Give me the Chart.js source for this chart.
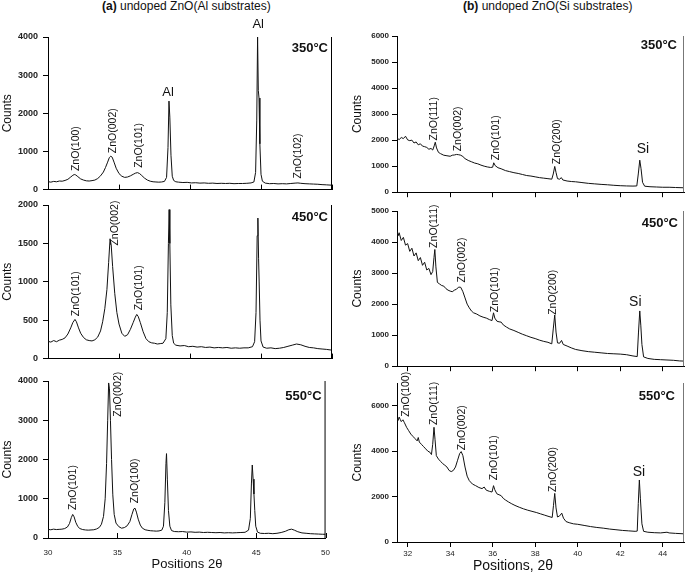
<!DOCTYPE html>
<html>
<head>
<meta charset="utf-8">
<script src="https://cdn.jsdelivr.net/npm/chart.js@4.4.1/dist/chart.umd.min.js"></script>
<style>
body { margin: 0; background: #fff; }
#wrap { position: relative; width: 685px; height: 574px; overflow: hidden; font-family: Arial, "Liberation Sans", sans-serif; }
#wrap canvas { position: absolute; }
.ttl { position: absolute; top: 0; font-size: 12px; line-height: 13px; white-space: nowrap; color: #111; }
</style>
</head>
<body>
<div id="wrap">
  <div class="ttl" style="left:102px"><b>(a)</b> undoped ZnO(Al substrates)</div>
  <div class="ttl" style="left:463px"><b>(b)</b> undoped ZnO(Si substrates)</div>
  <canvas id="c1" width="340" height="186" style="left:0;top:14px"></canvas>
  <canvas id="c2" width="340" height="179" style="left:0;top:190px"></canvas>
  <canvas id="c3" width="340" height="208" style="left:0;top:366px"></canvas>
  <canvas id="c4" width="345" height="186" style="left:340px;top:14px"></canvas>
  <canvas id="c5" width="345" height="179" style="left:340px;top:195px"></canvas>
  <canvas id="c6" width="345" height="208" style="left:340px;top:366px"></canvas>
</div>
<script>
// tick labels
var alTicksX = [30, 35, 40, 45, 50];
var siTicksX = [32, 34, 36, 38, 40, 42, 44];
var alTicksY350 = [0, 1000, 2000, 3000, 4000];
var alTicksY450 = [0, 500, 1000, 1500, 2000];
var alTicksY550 = [0, 1000, 2000, 3000, 4000];
var siTicksY350 = [0, 1000, 2000, 3000, 4000, 5000, 6000];
var siTicksY450 = [0, 1000, 2000, 3000, 4000, 5000];
var siTicksY550 = [0, 2000, 4000, 6000];

// scans [2theta, counts]
var al350 = [[30,210],[30.2,195],[30.4,215],[30.6,205],[30.8,225],[31,220],[31.2,240],[31.4,270],[31.6,330],[31.75,375],[31.85,395],[31.95,385],[32.1,340],[32.3,280],[32.5,250],[32.7,230],[32.9,225],[33.1,235],[33.3,250],[33.5,290],[33.7,360],[33.9,460],[34.05,580],[34.2,720],[34.32,840],[34.42,875],[34.52,850],[34.65,720],[34.8,560],[35,420],[35.2,350],[35.4,320],[35.6,330],[35.8,360],[36,400],[36.15,430],[36.3,445],[36.45,420],[36.6,370],[36.8,300],[37,250],[37.2,220],[37.4,205],[37.6,200],[37.8,195],[38,200],[38.2,215],[38.35,320],[38.45,1100],[38.52,2320],[38.58,1900],[38.66,900],[38.75,350],[38.85,240],[39,205],[39.2,195],[39.5,185],[39.8,190],[40.1,175],[40.4,180],[40.7,170],[41,175],[41.3,165],[41.6,170],[41.9,160],[42.2,165],[42.5,160],[42.8,165],[43.1,155],[43.4,160],[43.7,160],[44,165],[44.3,175],[44.5,200],[44.62,450],[44.7,1800],[44.76,4000],[44.81,2600],[44.86,2400],[44.92,1200],[45,400],[45.1,220],[45.3,170],[45.6,155],[45.9,160],[46.2,150],[46.5,155],[46.8,150],[47.1,160],[47.4,170],[47.6,175],[47.8,165],[48.1,155],[48.4,150],[48.7,145],[49,140],[49.3,130],[49.6,125],[50,115]];
var al450 = [[30,225],[30.2,215],[30.4,235],[30.6,220],[30.8,240],[31,250],[31.2,270],[31.4,320],[31.6,400],[31.75,470],[31.9,510],[32,480],[32.15,400],[32.3,330],[32.5,275],[32.7,245],[32.9,235],[33.1,230],[33.3,245],[33.5,280],[33.7,360],[33.85,480],[34,650],[34.15,900],[34.27,1250],[34.37,1560],[34.45,1480],[34.55,1200],[34.7,850],[34.85,600],[35,450],[35.2,330],[35.4,290],[35.6,310],[35.8,380],[36,470],[36.15,540],[36.25,575],[36.35,550],[36.5,470],[36.7,350],[36.9,260],[37.1,220],[37.3,205],[37.5,200],[37.7,190],[37.9,195],[38.1,200],[38.3,260],[38.4,600],[38.48,1500],[38.53,1940],[38.58,1500],[38.65,700],[38.75,300],[38.85,200],[39,175],[39.3,165],[39.6,170],[39.9,155],[40.2,160],[40.5,150],[40.8,155],[41.1,145],[41.4,150],[41.7,140],[42,145],[42.3,140],[42.6,145],[42.9,135],[43.2,140],[43.5,135],[43.8,140],[44.1,140],[44.4,155],[44.55,220],[44.65,600],[44.73,1600],[44.78,1830],[44.83,1300],[44.87,1010],[44.93,500],[45,230],[45.15,150],[45.4,135],[45.7,140],[46,130],[46.3,135],[46.6,145],[46.9,160],[47.2,175],[47.5,190],[47.8,180],[48.1,160],[48.4,145],[48.7,140],[49,130],[49.3,125],[49.6,120],[50,110]];
var al550 = [[30,220],[30.2,210],[30.4,225],[30.6,215],[30.8,220],[31,225],[31.2,240],[31.4,280],[31.55,370],[31.68,520],[31.78,600],[31.88,540],[32,400],[32.15,290],[32.3,240],[32.5,215],[32.7,205],[32.9,200],[33.1,205],[33.3,210],[33.5,230],[33.7,270],[33.85,350],[34,550],[34.12,1000],[34.22,1900],[34.3,3000],[34.37,3950],[34.43,3800],[34.5,3000],[34.58,2000],[34.67,1100],[34.77,600],[34.9,380],[35.1,290],[35.3,250],[35.5,265],[35.7,310],[35.9,420],[36.05,600],[36.18,740],[36.27,760],[36.37,660],[36.5,480],[36.65,330],[36.8,250],[37,210],[37.2,195],[37.4,185],[37.6,180],[37.8,175],[38,180],[38.2,200],[38.32,300],[38.42,900],[38.5,1900],[38.54,2150],[38.6,1500],[38.68,700],[38.78,300],[38.9,190],[39.1,165],[39.4,160],[39.7,165],[40,150],[40.3,155],[40.6,145],[40.9,150],[41.2,140],[41.5,145],[41.8,140],[42.1,135],[42.4,140],[42.7,130],[43,135],[43.3,130],[43.6,135],[43.9,140],[44.2,145],[44.45,200],[44.58,500],[44.66,1400],[44.72,1860],[44.78,1500],[44.84,1120],[44.9,700],[44.97,300],[45.1,150],[45.3,120],[45.6,115],[45.9,120],[46.2,110],[46.5,120],[46.8,140],[47.1,170],[47.35,210],[47.55,225],[47.75,200],[48,160],[48.3,130],[48.6,120],[48.9,110],[49.2,105],[49.5,100],[49.8,95],[50,95]];
var si350 = [[31.5,2080],[31.6,2020],[31.7,2100],[31.8,2060],[31.9,2150],[32,2010],[32.1,1980],[32.2,2000],[32.3,1890],[32.4,1930],[32.5,1820],[32.6,1860],[32.7,1770],[32.8,1750],[32.9,1720],[33,1650],[33.1,1680],[33.18,1620],[33.25,1780],[33.3,1920],[33.36,1700],[33.45,1530],[33.55,1480],[33.7,1420],[33.85,1400],[34,1380],[34.1,1420],[34.2,1430],[34.3,1450],[34.4,1440],[34.5,1420],[34.6,1370],[34.7,1290],[34.85,1220],[35,1170],[35.15,1120],[35.3,1090],[35.45,1040],[35.6,1000],[35.75,970],[35.9,950],[36,960],[36.05,1130],[36.12,1020],[36.25,940],[36.4,900],[36.6,830],[36.8,790],[37,750],[37.2,720],[37.4,680],[37.6,640],[37.8,620],[38,590],[38.2,560],[38.4,540],[38.6,520],[38.78,500],[38.85,700],[38.92,990],[38.98,760],[39.05,520],[39.15,500],[39.23,560],[39.3,470],[39.5,430],[39.7,410],[39.9,400],[40.2,370],[40.5,340],[40.8,320],[41.1,300],[41.4,285],[41.7,265],[42,250],[42.3,240],[42.6,235],[42.78,240],[42.85,700],[42.92,1230],[42.98,900],[43.05,380],[43.15,230],[43.4,210],[43.7,200],[44,190],[44.3,190],[44.6,180],[45,170]];
var si450 = [[31.5,4350],[31.55,4200],[31.6,4300],[31.7,4050],[31.8,4150],[31.9,3900],[32,3950],[32.1,3700],[32.2,3800],[32.3,3550],[32.4,3650],[32.5,3400],[32.6,3500],[32.7,3250],[32.8,3350],[32.9,3100],[33,3150],[33.1,2950],[33.18,3050],[33.24,3500],[33.28,3760],[33.33,3200],[33.4,2700],[33.5,2650],[33.6,2600],[33.7,2580],[33.8,2500],[33.9,2450],[34,2420],[34.1,2400],[34.2,2450],[34.3,2480],[34.4,2550],[34.5,2540],[34.6,2400],[34.7,2200],[34.8,2000],[34.9,1880],[35,1780],[35.1,1720],[35.25,1680],[35.4,1620],[35.55,1580],[35.7,1550],[35.85,1500],[35.97,1470],[36.04,1720],[36.1,1550],[36.2,1450],[36.3,1430],[36.4,1420],[36.5,1330],[36.65,1260],[36.8,1200],[37,1150],[37.2,1090],[37.4,1030],[37.6,980],[37.8,930],[38,890],[38.2,840],[38.4,800],[38.6,770],[38.78,720],[38.85,1200],[38.92,1650],[38.98,1100],[39.05,750],[39.15,740],[39.24,830],[39.32,700],[39.5,650],[39.7,590],[39.9,540],[40.2,500],[40.5,470],[40.8,450],[41.1,430],[41.4,410],[41.7,400],[42,390],[42.3,370],[42.6,330],[42.8,310],[42.86,1100],[42.92,1780],[42.97,1300],[43.02,700],[43.1,300],[43.3,250],[43.6,220],[43.9,210],[44.2,200],[44.5,190],[44.8,170],[45,165]];
var si550 = [[31.5,5450],[31.55,5350],[31.6,5500],[31.65,5400],[31.7,5300],[31.78,5380],[31.85,5250],[31.95,5050],[32.05,4900],[32.15,4750],[32.25,4650],[32.35,4550],[32.45,4450],[32.5,4600],[32.55,4400],[32.65,4300],[32.75,4200],[32.85,4100],[32.95,4000],[33.05,3950],[33.12,3850],[33.18,4300],[33.24,5050],[33.29,4500],[33.35,3800],[33.45,3650],[33.55,3550],[33.65,3450],[33.75,3380],[33.85,3300],[33.95,3150],[34.05,3100],[34.15,3150],[34.25,3300],[34.35,3600],[34.45,3900],[34.52,3980],[34.6,3800],[34.7,3300],[34.8,2900],[34.9,2700],[35.05,2550],[35.2,2480],[35.35,2400],[35.5,2350],[35.6,2420],[35.7,2280],[35.85,2230],[35.97,2200],[36.04,2480],[36.1,2300],[36.2,2120],[36.3,2080],[36.4,2040],[36.5,1920],[36.6,1850],[36.75,1760],[36.9,1680],[37.05,1610],[37.25,1530],[37.45,1460],[37.65,1400],[37.85,1350],[38.05,1300],[38.25,1240],[38.45,1180],[38.65,1120],[38.8,1080],[38.86,1600],[38.92,2140],[38.98,1500],[39.05,1100],[39.15,1150],[39.25,1270],[39.33,1050],[39.45,900],[39.6,850],[39.8,800],[40,780],[40.3,730],[40.6,680],[40.9,640],[41.2,610],[41.5,570],[41.8,540],[42.1,510],[42.4,490],[42.7,470],[42.8,480],[42.85,1700],[42.9,2730],[42.95,1900],[43.02,800],[43.1,470],[43.3,430],[43.6,410],[43.9,400],[44.2,430],[44.3,400],[44.6,380],[45,360]];

// peak names, anchored at [2theta, counts]
var peaks350a = [['ZnO(100)',31.97,485],['ZnO(002)',34.56,954],['ZnO(101)',36.4,570],['ZnO(102)',47.58,290]];
var peaks450a = [['ZnO(101)',31.97,553],['ZnO(002)',34.7,1472],['ZnO(101)',36.43,629]];
var peaks550a = [['ZnO(101)',31.83,713],['ZnO(002)',35.02,3090],['ZnO(100)',36.29,883]];
var peaks350b = [['ZnO(111)',33.24,1986],['ZnO(002)',34.37,1570],['ZnO(101)',36.17,1227],['ZnO(200)',39.02,1075]];
var peaks450b = [['ZnO(111)',33.24,3812],['ZnO(002)',34.56,2697],['ZnO(101)',36.12,1741],['ZnO(200)',38.84,1656]];
var peaks550b = [['ZnO(100)',31.94,5515],['ZnO(111)',33.24,5147],['ZnO(002)',34.57,4044],['ZnO(101)',36.09,2720],['ZnO(200)',38.84,2205]];
var subs350a = [['Al',38.45,2550],['Al',44.8,4320]];
var subs350b = [['Si',43.07,1671]];
var subs450b = [['Si',42.71,2060]];
var subs550b = [['Si',42.88,3090]];

var FONT = 'Arial, "Liberation Sans", sans-serif';

var deco = {
    id: 'deco',
    afterDatasetsDraw: function (chart, args, o) {
        var ctx = chart.ctx, a = chart.chartArea, x = chart.scales.x, y = chart.scales.y;
        ctx.save();
        ctx.lineWidth = 1;
        ctx.strokeStyle = o.edge;
        ctx.beginPath();
        ctx.moveTo(a.right - 0.5, a.top);
        ctx.lineTo(a.right - 0.5, a.bottom);
        ctx.stroke();
        if (o.tickIn) {
            ctx.strokeStyle = '#000';
            o.xt.forEach(function (t) {
                var px = Math.round(x.getPixelForValue(t)) + 0.5;
                ctx.beginPath();
                ctx.moveTo(px, a.bottom);
                ctx.lineTo(px, a.bottom - 5);
                ctx.stroke();
            });
        }
        ctx.fillStyle = '#111';
        ctx.font = '10.5px ' + FONT;
        ctx.textAlign = 'left';
        ctx.textBaseline = 'middle';
        o.peaks.forEach(function (p) {
            ctx.save();
            ctx.translate(x.getPixelForValue(p[1]), y.getPixelForValue(p[2]));
            ctx.rotate(-Math.PI / 2);
            ctx.fillText(p[0], 0, 0);
            ctx.restore();
        });
        ctx.font = o.subSize + 'px ' + FONT;
        ctx.textAlign = 'center';
        o.subs.forEach(function (p) {
            ctx.fillText(p[0], x.getPixelForValue(p[1]), y.getPixelForValue(p[2]));
        });
        // temperature
        ctx.font = 'bold 13px ' + FONT;
        ctx.textAlign = 'right';
        ctx.fillText(o.temp, a.right - o.tempDx, a.top + o.tempDy);
        // axis titles
        ctx.font = '12px ' + FONT;
        ctx.textAlign = 'center';
        ctx.save();
        ctx.translate(o.countsX, (a.top + a.bottom) / 2);
        ctx.rotate(-Math.PI / 2);
        ctx.fillText('Counts', 0, 0);
        ctx.restore();
        if (o.xTitle) {
            ctx.font = o.xTitleSize + 'px ' + FONT;
            ctx.fillText(o.xTitle, o.xTitleX, o.xTitleY);
        }
        ctx.restore();
    }
};

function plain(v) { return String(v); }

function makePanel(id, p) {
    new Chart(document.getElementById(id), {
        type: 'scatter',
        data: {
            datasets: [{
                data: p.data.map(function (d) { return { x: d[0], y: d[1] }; }),
                showLine: true,
                borderColor: '#111',
                borderWidth: 1,
                pointRadius: 0,
                tension: 0
            }]
        },
        options: {
            responsive: false,
            animation: false,
            events: [],
            layout: { padding: { top: p.padTop, right: p.padRight, left: 0, bottom: 0 } },
            plugins: {
                legend: { display: false },
                tooltip: { enabled: false },
                deco: p.deco
            },
            scales: {
                x: {
                    type: 'linear', min: p.xmin, max: p.xmax,
                    afterBuildTicks: function (s) { s.ticks = p.xt.map(function (v) { return { value: v }; }); },
                    afterFit: function (s) { s.height = p.xh; },
                    ticks: { display: p.xlab, callback: plain, font: { size: 8, family: FONT }, color: '#222', padding: p.xpad, maxRotation: 0, autoSkip: false },
                    grid: { drawOnChartArea: false, drawTicks: !p.deco.tickIn, tickLength: 5, color: '#000' },
                    border: { color: '#000' }
                },
                y: {
                    type: 'linear', min: 0, max: p.ymax,
                    afterBuildTicks: function (s) { s.ticks = p.yt.map(function (v) { return { value: v }; }); },
                    afterFit: function (s) { s.width = p.yw; },
                    ticks: { callback: plain, font: { size: p.yfs, weight: 'bold', family: FONT }, color: '#222', padding: p.ypad, autoSkip: false },
                    grid: { drawOnChartArea: false, tickLength: 5, color: '#000' },
                    border: { color: '#000' }
                }
            }
        },
        plugins: [deco]
    });
}

function leftDeco(peaks, subs, temp, dy, xTitle) {
    return { edge: '#000', tickIn: true, xt: alTicksX, peaks: peaks, subs: subs, subSize: 13,
        temp: temp, tempDx: 4, tempDy: dy, countsX: 8,
        xTitle: xTitle, xTitleSize: 13, xTitleX: 187, xTitleY: 198 };
}
function rightDeco(peaks, subs, temp, dx, dy, xTitle) {
    return { edge: '#777', tickIn: false, xt: siTicksX, peaks: peaks, subs: subs, subSize: 14,
        temp: temp, tempDx: dx, tempDy: dy, countsX: 18,
        xTitle: xTitle, xTitleSize: 14, xTitleX: 173, xTitleY: 200 };
}

makePanel('c1', { data: al350, xmin: 30, xmax: 50, xt: alTicksX, ymax: 4000, yt: alTicksY350,
    padTop: 23, padRight: 8, xh: 6, xlab: false, xpad: 0, yw: 48, yfs: 9, ypad: 5,
    deco: leftDeco(peaks350a, subs350a, '350°C', 11, null) });
makePanel('c2', { data: al450, xmin: 30, xmax: 50, xt: alTicksX, ymax: 2000, yt: alTicksY450,
    padTop: 15, padRight: 8, xh: 6, xlab: false, xpad: 0, yw: 48, yfs: 9, ypad: 5,
    deco: leftDeco(peaks450a, [], '450°C', 12, null) });
makePanel('c3', { data: al550, xmin: 30, xmax: 50, xt: alTicksX, ymax: 4000, yt: alTicksY550,
    padTop: 15, padRight: 8, xh: 36, xlab: true, xpad: 10, yw: 48, yfs: 9, ypad: 5,
    deco: leftDeco(peaks550a, [], '550°C', 15, 'Positions 2θ') });
makePanel('c4', { data: si350, xmin: 31.5, xmax: 45, xt: siTicksX, ymax: 6000, yt: siTicksY350,
    padTop: 22, padRight: 1, xh: 6, xlab: false, xpad: 0, yw: 57, yfs: 8, ypad: 3,
    deco: rightDeco(peaks350b, subs350b, '350°C', 7, 9, null) });
makePanel('c5', { data: si450, xmin: 31.5, xmax: 45, xt: siTicksX, ymax: 5000, yt: siTicksY450,
    padTop: 16, padRight: 1, xh: 6, xlab: false, xpad: 0, yw: 57, yfs: 8, ypad: 3,
    deco: rightDeco(peaks450b, subs450b, '450°C', 6, 12, null) });
makePanel('c6', { data: si550, xmin: 31.5, xmax: 45, xt: siTicksX, ymax: 7000, yt: siTicksY550,
    padTop: 17, padRight: 1, xh: 32, xlab: true, xpad: 2, yw: 57, yfs: 8, ypad: 3,
    deco: rightDeco(peaks550b, subs550b, '550°C', 9, 13, 'Positions, 2θ') });
</script>
</body>
</html>
